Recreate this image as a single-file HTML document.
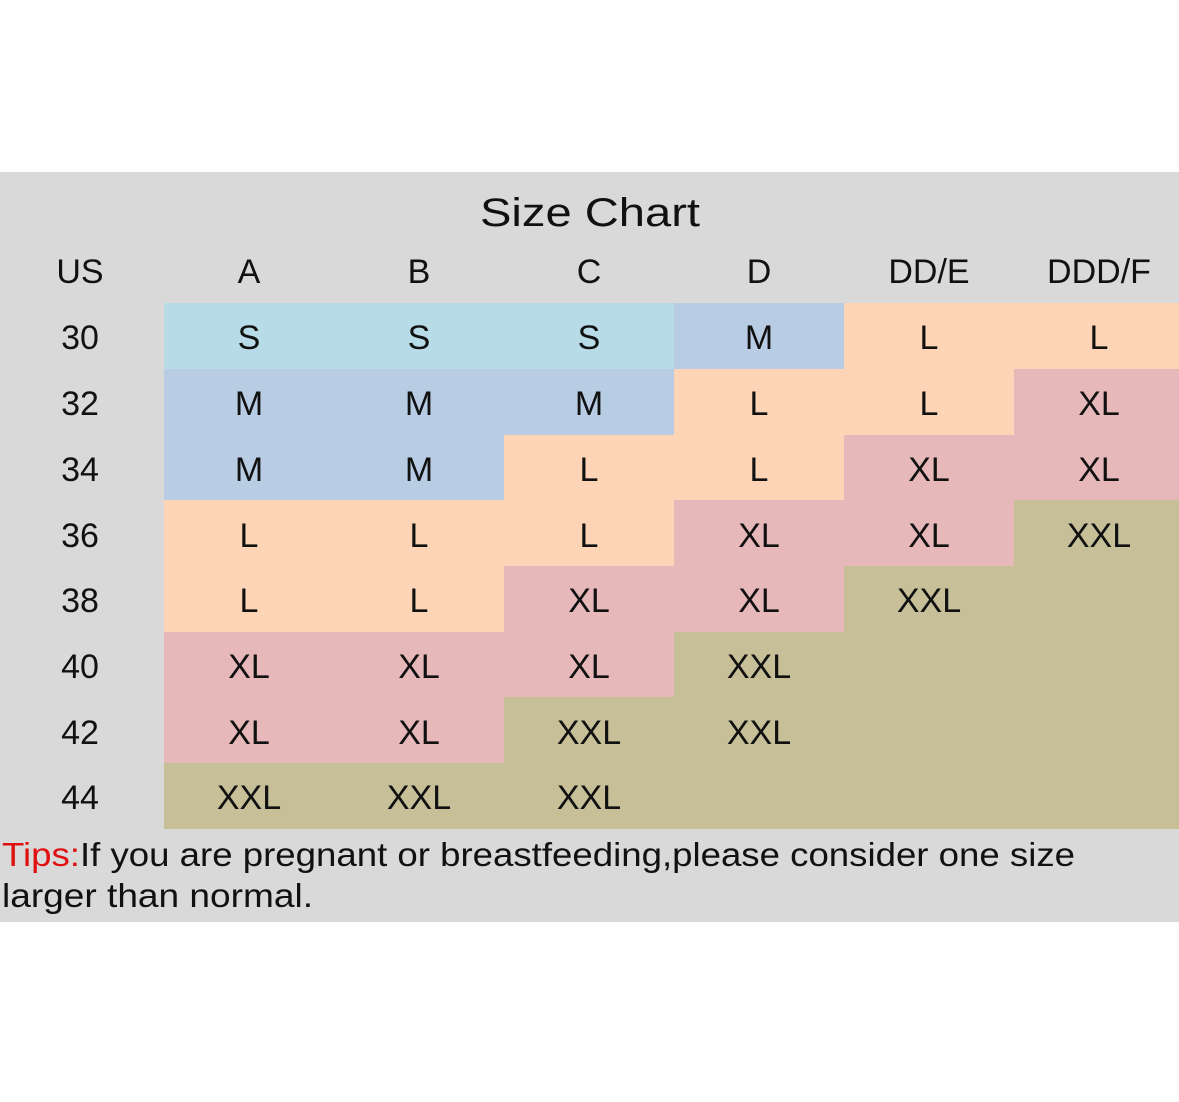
<!DOCTYPE html>
<html><head><style>html,body{margin:0;padding:0;background:#fff;}svg{display:block}</style></head>
<body>
<svg width="1179" height="1102" xmlns="http://www.w3.org/2000/svg" font-family="Liberation Sans, sans-serif" fill="#111">
<rect x="0" y="172" width="1179" height="750" fill="#d9d9d9"/>
<g id="cells"></g>
<script>
</script>
<!-- cells -->
<g>
<!-- row 30 -->
<rect x="164" y="303" width="510" height="66" fill="#b7dbe7"/>
<rect x="674" y="303" width="170" height="66" fill="#b8cce4"/>
<rect x="844" y="303" width="335" height="66" fill="#fdd5b6"/>
<!-- row 32 -->
<rect x="164" y="369" width="510" height="66" fill="#b8cce4"/>
<rect x="674" y="369" width="340" height="66" fill="#fdd5b6"/>
<rect x="1014" y="369" width="165" height="66" fill="#e6b8b9"/>
<!-- row 34 -->
<rect x="164" y="435" width="340" height="65" fill="#b8cce4"/>
<rect x="504" y="435" width="340" height="65" fill="#fdd5b6"/>
<rect x="844" y="435" width="335" height="65" fill="#e6b8b9"/>
<!-- row 36 -->
<rect x="164" y="500" width="510" height="66" fill="#fdd5b6"/>
<rect x="674" y="500" width="340" height="66" fill="#e6b8b9"/>
<rect x="1014" y="500" width="165" height="66" fill="#c6bf98"/>
<!-- row 38 -->
<rect x="164" y="566" width="340" height="66" fill="#fdd5b6"/>
<rect x="504" y="566" width="340" height="66" fill="#e6b8b9"/>
<rect x="844" y="566" width="335" height="66" fill="#c6bf98"/>
<!-- row 40 -->
<rect x="164" y="632" width="510" height="65" fill="#e6b8b9"/>
<rect x="674" y="632" width="505" height="65" fill="#c6bf98"/>
<!-- row 42 -->
<rect x="164" y="697" width="340" height="66" fill="#e6b8b9"/>
<rect x="504" y="697" width="675" height="66" fill="#c6bf98"/>
<!-- row 44 -->
<rect x="164" y="763" width="1015" height="66" fill="#c6bf98"/>
</g>
<text x="590" y="226" font-size="40" text-anchor="middle" textLength="220" lengthAdjust="spacingAndGlyphs">Size Chart</text>
<g font-size="34" text-anchor="middle">
<text x="80" y="283">US</text><text x="249" y="283">A</text><text x="419" y="283">B</text><text x="589" y="283">C</text><text x="759" y="283">D</text><text x="929" y="283">DD/E</text><text x="1099" y="283">DDD/F</text>
<text x="80" y="349">30</text><text x="249" y="349">S</text><text x="419" y="349">S</text><text x="589" y="349">S</text><text x="759" y="349">M</text><text x="929" y="349">L</text><text x="1099" y="349">L</text>
<text x="80" y="415">32</text><text x="249" y="415">M</text><text x="419" y="415">M</text><text x="589" y="415">M</text><text x="759" y="415">L</text><text x="929" y="415">L</text><text x="1099" y="415">XL</text>
<text x="80" y="481">34</text><text x="249" y="481">M</text><text x="419" y="481">M</text><text x="589" y="481">L</text><text x="759" y="481">L</text><text x="929" y="481">XL</text><text x="1099" y="481">XL</text>
<text x="80" y="547">36</text><text x="249" y="547">L</text><text x="419" y="547">L</text><text x="589" y="547">L</text><text x="759" y="547">XL</text><text x="929" y="547">XL</text><text x="1099" y="547">XXL</text>
<text x="80" y="612">38</text><text x="249" y="612">L</text><text x="419" y="612">L</text><text x="589" y="612">XL</text><text x="759" y="612">XL</text><text x="929" y="612">XXL</text>
<text x="80" y="678">40</text><text x="249" y="678">XL</text><text x="419" y="678">XL</text><text x="589" y="678">XL</text><text x="759" y="678">XXL</text>
<text x="80" y="744">42</text><text x="249" y="744">XL</text><text x="419" y="744">XL</text><text x="589" y="744">XXL</text><text x="759" y="744">XXL</text>
<text x="80" y="809">44</text><text x="249" y="809">XXL</text><text x="419" y="809">XXL</text><text x="589" y="809">XXL</text>
</g>
<text x="2" y="866" font-size="33" textLength="1073" lengthAdjust="spacingAndGlyphs"><tspan fill="#e01010">Tips:</tspan>If you are pregnant or breastfeeding,please consider one size</text>
<text x="2" y="907" font-size="33" textLength="311" lengthAdjust="spacingAndGlyphs">larger than normal.</text>
</svg>
</body></html>
